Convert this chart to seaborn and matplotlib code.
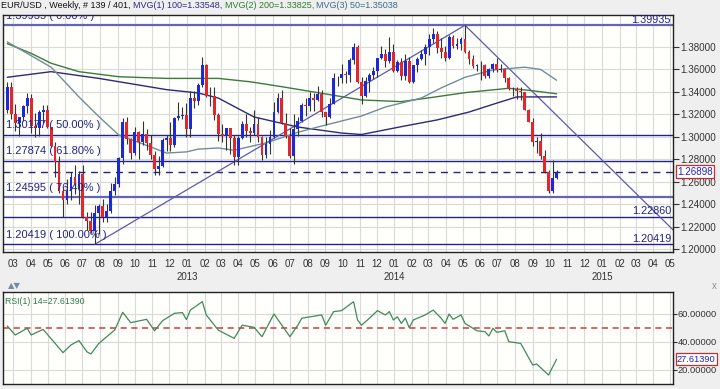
import numpy as np
import pandas as pd
import matplotlib
matplotlib.use('Agg')
import matplotlib.pyplot as plt
import matplotlib.transforms as mtransforms
import seaborn as sns

sns.set_style('white')
plt.rcParams['font.family'] = ['Liberation Sans', 'DejaVu Sans']

# weekly EUR/USD candles, first week starts 2012-02-20
first_week = '2012-02-20'
opens = [
    1.3240, 1.3447, 1.3202, 1.3119, 1.3176, 1.3271, 1.3343, 1.3096, 1.3075, 1.3221,
    1.3236, 1.3083, 1.2916, 1.2779, 1.2516, 1.2433, 1.2516, 1.2639, 1.2571, 1.2666,
    1.2289, 1.2247, 1.2156, 1.2317, 1.2386, 1.2289, 1.2334, 1.2515, 1.2577, 1.2815,
    1.3130, 1.2977, 1.2859, 1.3039, 1.2954, 1.3022, 1.2942, 1.2833, 1.2710, 1.2738,
    1.2975, 1.2986, 1.2925, 1.3163, 1.3181, 1.3194, 1.3067, 1.3344, 1.3315, 1.3459,
    1.3641, 1.3366, 1.3363, 1.3190, 1.3022, 1.3006, 1.3074, 1.2987, 1.2818, 1.2993,
    1.3110, 1.3051, 1.3030, 1.3114, 1.2995, 1.2838, 1.2932, 1.2999, 1.3221, 1.3347,
    1.3122, 1.3011, 1.2830, 1.3068, 1.3142, 1.3279, 1.3278, 1.3344, 1.3328, 1.3382,
    1.3218, 1.3175, 1.3296, 1.3524, 1.3523, 1.3556, 1.3552, 1.3686, 1.3803, 1.3487,
    1.3363, 1.3500, 1.3554, 1.3590, 1.3704, 1.3740, 1.3673, 1.3753, 1.3589, 1.3666,
    1.3538, 1.3677, 1.3488, 1.3635, 1.3694, 1.3740, 1.3804, 1.3872, 1.3913, 1.3790,
    1.3752, 1.3704, 1.3888, 1.3813, 1.3830, 1.3871, 1.3757, 1.3695, 1.3627, 1.3637,
    1.3642, 1.3542, 1.3608, 1.3646, 1.3595, 1.3605, 1.3525, 1.3430, 1.3424, 1.3410,
    1.3398, 1.3240, 1.3133, 1.2951, 1.2960, 1.2829, 1.2685, 1.2518, 1.2631]
highs = [
    1.3486, 1.3486, 1.3290, 1.3180, 1.3286, 1.3386, 1.3385, 1.3212, 1.3240, 1.3283,
    1.3283, 1.3090, 1.2955, 1.2825, 1.2540, 1.2625, 1.2690, 1.2747, 1.2693, 1.2748,
    1.2330, 1.2329, 1.2390, 1.2405, 1.2443, 1.2401, 1.2587, 1.2637, 1.2818, 1.3170,
    1.3173, 1.2990, 1.3085, 1.3050, 1.3140, 1.3071, 1.3015, 1.2875, 1.2826, 1.2985,
    1.3015, 1.3128, 1.3173, 1.3309, 1.3262, 1.3300, 1.3404, 1.3404, 1.3478, 1.3711,
    1.3650, 1.3442, 1.3443, 1.3210, 1.3113, 1.3077, 1.3080, 1.3020, 1.3010, 1.3143,
    1.3203, 1.3090, 1.3242, 1.3172, 1.3003, 1.2999, 1.3060, 1.3307, 1.3390, 1.3416,
    1.3212, 1.3081, 1.3207, 1.3175, 1.3297, 1.3346, 1.3400, 1.3393, 1.3452, 1.3415,
    1.3220, 1.3341, 1.3569, 1.3543, 1.3646, 1.3589, 1.3704, 1.3832, 1.3820, 1.3530,
    1.3530, 1.3565, 1.3620, 1.3705, 1.3811, 1.3785, 1.3893, 1.3830, 1.3687, 1.3700,
    1.3740, 1.3710, 1.3640, 1.3715, 1.3774, 1.3824, 1.3915, 1.3967, 1.3940, 1.3877,
    1.3809, 1.3906, 1.3905, 1.3877, 1.3889, 1.3993, 1.3771, 1.3733, 1.3652, 1.3677,
    1.3646, 1.3614, 1.3658, 1.3700, 1.3650, 1.3617, 1.3530, 1.3445, 1.3445, 1.3444,
    1.3400, 1.3245, 1.3167, 1.2998, 1.3036, 1.2880, 1.2705, 1.2791, 1.2700]
lows = [
    1.3213, 1.3160, 1.3055, 1.3003, 1.3140, 1.3212, 1.3033, 1.2995, 1.3005, 1.3123,
    1.3075, 1.2905, 1.2640, 1.2495, 1.2288, 1.2400, 1.2440, 1.2490, 1.2405, 1.2278,
    1.2165, 1.2143, 1.2042, 1.2133, 1.2240, 1.2240, 1.2323, 1.2480, 1.2550, 1.2755,
    1.2935, 1.2803, 1.2840, 1.2803, 1.2930, 1.2884, 1.2803, 1.2660, 1.2661, 1.2733,
    1.2877, 1.2876, 1.2910, 1.3152, 1.3160, 1.3000, 1.3000, 1.3256, 1.3287, 1.3440,
    1.3353, 1.3274, 1.3145, 1.2966, 1.2955, 1.2885, 1.2842, 1.2750, 1.2744, 1.2980,
    1.2996, 1.2953, 1.3019, 1.2955, 1.2796, 1.2815, 1.2848, 1.2988, 1.3210, 1.3110,
    1.2990, 1.2808, 1.2755, 1.3008, 1.3131, 1.3186, 1.3232, 1.3226, 1.3320, 1.3175,
    1.3105, 1.3170, 1.3289, 1.3451, 1.3483, 1.3482, 1.3491, 1.3650, 1.3476, 1.3296,
    1.3356, 1.3400, 1.3514, 1.3530, 1.3690, 1.3625, 1.3660, 1.3573, 1.3573, 1.3506,
    1.3509, 1.3477, 1.3477, 1.3576, 1.3684, 1.3643, 1.3731, 1.3832, 1.3749, 1.3705,
    1.3672, 1.3693, 1.3787, 1.3784, 1.3771, 1.3750, 1.3648, 1.3615, 1.3586, 1.3503,
    1.3525, 1.3524, 1.3575, 1.3580, 1.3575, 1.3491, 1.3421, 1.3367, 1.3333, 1.3324,
    1.3239, 1.3131, 1.2918, 1.2859, 1.2800, 1.2679, 1.2501, 1.2500, 1.2625]
closes = [
    1.3447, 1.3202, 1.3119, 1.3176, 1.3271, 1.3343, 1.3096, 1.3075, 1.3221, 1.3236,
    1.3083, 1.2916, 1.2779, 1.2516, 1.2433, 1.2516, 1.2639, 1.2571, 1.2666, 1.2289,
    1.2247, 1.2156, 1.2317, 1.2386, 1.2289, 1.2334, 1.2515, 1.2577, 1.2815, 1.3130,
    1.2977, 1.2859, 1.3039, 1.2954, 1.3022, 1.2942, 1.2833, 1.2710, 1.2738, 1.2975,
    1.2986, 1.2925, 1.3163, 1.3181, 1.3194, 1.3067, 1.3344, 1.3315, 1.3459, 1.3641,
    1.3366, 1.3363, 1.3190, 1.3022, 1.3006, 1.3074, 1.2987, 1.2818, 1.2993, 1.3110,
    1.3051, 1.3030, 1.3114, 1.2995, 1.2838, 1.2932, 1.2999, 1.3221, 1.3347, 1.3122,
    1.3011, 1.2830, 1.3068, 1.3142, 1.3279, 1.3278, 1.3344, 1.3328, 1.3382, 1.3218,
    1.3175, 1.3296, 1.3524, 1.3523, 1.3556, 1.3552, 1.3686, 1.3803, 1.3487, 1.3363,
    1.3500, 1.3554, 1.3590, 1.3704, 1.3740, 1.3673, 1.3753, 1.3589, 1.3666, 1.3538,
    1.3677, 1.3488, 1.3635, 1.3694, 1.3740, 1.3804, 1.3872, 1.3913, 1.3790, 1.3752,
    1.3704, 1.3888, 1.3813, 1.3830, 1.3871, 1.3757, 1.3695, 1.3627, 1.3637, 1.3642,
    1.3542, 1.3608, 1.3646, 1.3595, 1.3605, 1.3525, 1.3430, 1.3424, 1.3410, 1.3398,
    1.3240, 1.3133, 1.2951, 1.2960, 1.2829, 1.2685, 1.2518, 1.2631, 1.2690]

# moving averages (week index, value)
ma100_weeks = [0, 11, 23, 40, 48, 53, 62, 73, 84, 89, 99, 108, 116, 123, 128, 138]
ma100_vals = [1.3530, 1.3580, 1.3520, 1.3420, 1.3390, 1.3345, 1.3176, 1.3087, 1.3033, 1.3020,
              1.3090, 1.3150, 1.3220, 1.3300, 1.3355, 1.3355]
ma200_weeks = [0, 6, 11, 18, 28, 40, 53, 61, 69, 79, 89, 99, 107, 115, 126, 132, 138]
ma200_vals = [1.3830, 1.3743, 1.3655, 1.3580, 1.3535, 1.3520, 1.3520, 1.3490, 1.3446, 1.3387,
              1.3328, 1.3313, 1.3352, 1.3393, 1.3432, 1.3410, 1.3383]
ma50_weeks = [0, 11, 18, 23, 28, 36, 40, 45, 48, 53, 57, 65, 73, 80, 89, 95, 104, 109, 115,
              122, 130, 134, 138]
ma50_vals = [1.3845, 1.3620, 1.3355, 1.3180, 1.3016, 1.2910, 1.2855, 1.2865, 1.2890, 1.2900,
             1.2880, 1.2945, 1.3040, 1.3105, 1.3185, 1.3265, 1.3345, 1.3435, 1.3530,
             1.3595, 1.3620, 1.3600, 1.3504]

# RSI(14)
rsi_weeks = [0, 2, 5, 6, 9, 14, 16, 18, 20, 21, 23, 27, 29, 31, 35, 37, 39, 42, 44, 45, 46,
             49, 50, 53, 57, 59, 62, 64, 67, 71, 73, 74, 79, 80, 82, 84, 87, 88, 89, 91, 93,
             95, 96, 97, 98, 99, 100, 101, 102, 105, 107, 109, 110, 111, 112, 114, 115, 118,
             120, 121, 122, 123, 125, 126, 129, 132, 133, 136, 138]
rsi_vals = [51.4, 45.0, 49.8, 45.0, 49.0, 32.4, 37.9, 41.0, 33.0, 31.4, 39.0, 48.6, 61.2, 53.8,
            56.2, 48.0, 55.2, 60.5, 61.0, 56.0, 62.8, 68.8, 59.3, 48.5, 42.6, 52.0, 50.5, 43.8,
            60.0, 43.8, 52.0, 57.0, 59.3, 52.0, 61.7, 62.4, 68.8, 55.7, 52.0, 57.0, 62.4, 59.3,
            61.7, 55.7, 58.0, 53.3, 57.0, 50.2, 55.7, 59.3, 62.8, 57.0, 53.3, 60.0, 56.2, 59.3,
            53.3, 48.0, 47.4, 44.3, 49.8, 46.9, 48.0, 40.2, 39.0, 23.6, 24.3, 16.4, 27.6139]

fib_levels = [1.39935, 1.30177, 1.27874, 1.24595, 1.20419]
fib_pcts = ['0.00%', '50.00%', '61.80%', '76.40%', '100.00%']
extra_level = 1.22860
last_price = 1.26898
trend_up_weeks = [22, 115]
trend_up_vals = [1.20419, 1.39935]
trend_down_weeks = [115, 168]
trend_down_vals = [1.39935, 1.2145]

header_parts = ['EUR/USD , Weekly, # 139 / 401,', 'MVG(1) 100=1.33548,',
                'MVG(2) 200=1.33825,', 'MVG(3) 50=1.35038']
header_colors = ['#111111', '#2a2a8a', '#2f7a2f', '#3a6a8a']

NAVY = '#22228a'
LIGHT_NAVY = '#6464b8'
GRID = '#d9d9d9'

start = pd.Timestamp(first_week)
weeks = np.arange(len(closes))
o = np.array(opens)
c = np.array(closes)
up = c >= o

fig = plt.figure(figsize=(7.2, 3.89), dpi=100)
fig.patch.set_facecolor('#efefef')
W, H = 720.0, 389.0
ax = fig.add_axes([3 / W, (H - 252) / H, 670 / W, 237 / H])
ax2 = fig.add_axes([3 / W, (H - 384) / H, 670 / W, 92 / H], sharex=ax)
for a in (ax, ax2):
    a.set_facecolor('#fffffb')
    for s in a.spines.values():
        s.set_color('#222222')
        s.set_linewidth(1.0)

xmin, xmax = -1.08, 167.26
ax.set_xlim(xmin, xmax)
ax.set_ylim(1.1973, 1.4085)
ax2.set_ylim(10, 75.7)

# month grid
months = pd.date_range('2012-03-01', '2015-05-01', freq='MS')
mpos = [(m - start).days / 7 for m in months]
for a in (ax, ax2):
    for p in mpos:
        a.axvline(p, color=GRID, lw=0.8, zorder=0)
for yv in np.arange(1.20, 1.3901, 0.02):
    ax.axhline(yv, color=GRID, lw=0.8, zorder=0)
for yv in [20, 40, 60]:
    ax2.axhline(yv, color=GRID, lw=0.8, zorder=0)

# fib and level lines
bt = mtransforms.blended_transform_factory(ax.transAxes, ax.transData)
for lv, pct in zip(fib_levels, fib_pcts):
    hl = pct in ('0.00%', '76.40%')
    ax.axhline(lv, color=LIGHT_NAVY if hl else NAVY, lw=1.6 if hl else 1.0, zorder=1)
    ax.text(0.004, lv + 0.0085, f'{lv:.5f} ( {pct} )', transform=bt,
            color=NAVY, fontsize=8, va='center', ha='left', zorder=6, clip_on=True)
ax.axhline(extra_level, color=NAVY, lw=1.0, zorder=1)
ax.axhline(last_price, color=NAVY, lw=1.0, ls=(0, (5, 4)), zorder=1)
for lv in [fib_levels[0], extra_level, fib_levels[-1]]:
    ax.text(0.997, lv + 0.0004, f'{lv:.5f}', transform=bt, color=NAVY, fontsize=7.8,
            ha='right', va='bottom', zorder=6)

# trend lines
sns.lineplot(x=trend_up_weeks, y=trend_up_vals, ax=ax, color='#5a5ab0', lw=0.9, zorder=2)
sns.lineplot(x=trend_down_weeks, y=trend_down_vals, ax=ax, color='#5a5ab0', lw=0.9, zorder=2)

# moving averages
sns.lineplot(x=ma100_weeks, y=ma100_vals, ax=ax, color='#2a2a78', lw=1.0, zorder=3)
sns.lineplot(x=ma200_weeks, y=ma200_vals, ax=ax, color='#3c7a3c', lw=1.0, zorder=3)
sns.lineplot(x=ma50_weeks, y=ma50_vals, ax=ax, color='#6f8e9c', lw=1.0, zorder=3)

# candles
ax.vlines(weeks, lows, highs, color='#333333', lw=0.8, zorder=4)
ax.bar(weeks, np.abs(c - o), bottom=np.minimum(o, c), width=0.72,
       color=np.where(up, '#1c2ad6', '#e3262a'), edgecolor='none', zorder=5)

# axes ticks
ax.yaxis.tick_right()
ax.set_yticks(np.arange(1.20, 1.3901, 0.02))
ax.set_yticklabels([f'{v:.5f}' for v in np.arange(1.20, 1.3901, 0.02)])
ax.tick_params(axis='y', right=True, length=4, width=0.8, pad=1, labelsize=7.1,
               labelcolor='#333333', color='#333333')
ax.set_xticks(mpos)
ax.set_xticklabels([m.strftime('%m') for m in months])
ax.tick_params(axis='x', bottom=True, length=0, pad=5, labelsize=7, labelcolor='#333333')
xt = mtransforms.blended_transform_factory(ax.transData, ax.transAxes)
for m, p in zip(months, mpos):
    if m.month == 1:
        ax.text(p, -0.105, str(m.year), transform=xt, ha='center', va='center',
                fontsize=7, color='#333333')
ax.text(1.006, last_price, f'{last_price:.5f}', transform=bt, color='#2020c0', fontsize=7.1,
        ha='left', va='center',
        bbox=dict(boxstyle='square,pad=0.15', fc='white', ec='#c03030', lw=0.9))

# RSI panel
ax2.axhline(50, color='#d23a3a', lw=1.1, ls=(0, (4, 3)), zorder=2)
sns.lineplot(x=rsi_weeks, y=rsi_vals, ax=ax2, color='#3f8a5a', lw=0.9, zorder=3)
ax2.yaxis.tick_right()
ax2.set_yticks([20, 40, 60])
ax2.set_yticklabels(['20.00000', '40.00000', '60.00000'])
ax2.tick_params(axis='y', right=True, length=3, width=0.8, pad=0.5, labelsize=6.7,
                labelcolor='#333333', color='#333333')
ax2.tick_params(axis='x', bottom=False, labelbottom=False)
bt2 = mtransforms.blended_transform_factory(ax2.transAxes, ax2.transData)
ax2.text(1.006, rsi_vals[-1], f'{rsi_vals[-1]:.5f}', transform=bt2, color='#2020c0',
         fontsize=6.7, ha='left', va='center',
         bbox=dict(boxstyle='square,pad=0.15', fc='white', ec='#c03030', lw=0.9))
ax2.text(0.003, 0.9, f'RSI(1) 14={rsi_vals[-1]:.5f}', transform=ax2.transAxes,
         color='#2f7a4a', fontsize=6.3, ha='left', va='center')
for a in (ax, ax2):
    a.set_xlabel('')
    a.set_ylabel('')

# header, pieces placed one after another
renderer = fig.canvas.get_renderer()
hx = 1.0
hy = 1 - 6 / H
for part, col in zip(header_parts, header_colors):
    t = fig.text(hx / W, hy, part, color=col, fontsize=6.5, va='center')
    hx = t.get_window_extent(renderer).x1 + 2.5
fig.text(8 / W, 1 - 286 / H, '▲▼', color='#7888a8', fontsize=6, va='center',
         family='DejaVu Sans')
fig.text(712 / W, 1 - 286 / H, 'x', color='#8890a0', fontsize=7, va='center')

fig.savefig('out.png', dpi=100, facecolor=fig.get_facecolor())
